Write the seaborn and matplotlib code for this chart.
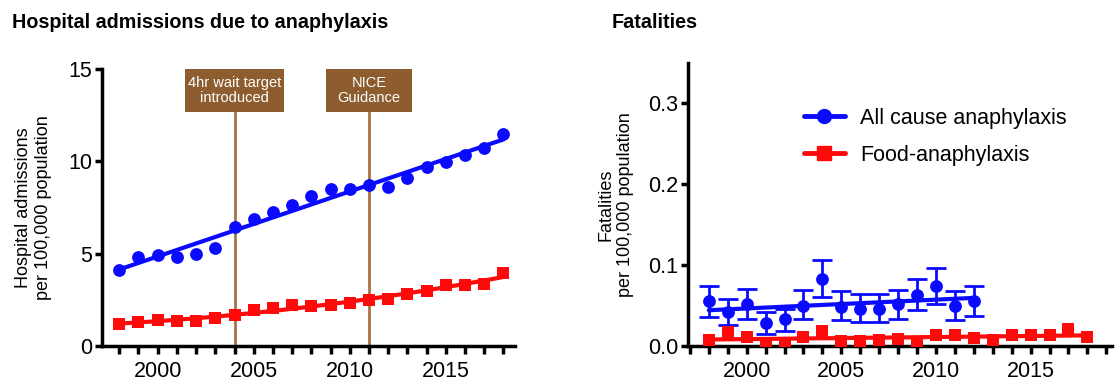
import numpy as np
import pandas as pd
import matplotlib
matplotlib.use("Agg")
import matplotlib.pyplot as plt
import seaborn as sns
from matplotlib.lines import Line2D
from matplotlib.patches import Rectangle
from matplotlib.ticker import MultipleLocator, FixedLocator

sns.set_style("ticks")
plt.rcParams['font.family'] = ['Liberation Sans', 'DejaVu Sans']
plt.rcParams['text.color'] = 'black'
plt.rcParams['axes.labelcolor'] = 'black'
plt.rcParams['xtick.color'] = 'black'
plt.rcParams['ytick.color'] = 'black'

years = list(range(1998, 2019))
adm_all = [4.1, 4.83, 4.92, 4.83, 4.97, 5.33, 6.45, 6.9, 7.27, 7.63, 8.11,
           8.48, 8.48, 8.71, 8.62, 9.11, 9.7, 9.98, 10.34, 10.74, 11.48]
adm_food = [1.17, 1.30, 1.43, 1.36, 1.36, 1.54, 1.66, 1.93, 2.08, 2.2, 2.15,
            2.2, 2.35, 2.48, 2.57, 2.8, 2.98, 3.33, 3.29, 3.38, 3.96]

fat_years_all = list(range(1998, 2013))
fat_all = [0.0557, 0.042, 0.0516, 0.0285, 0.0338, 0.050, 0.0825, 0.048,
           0.046, 0.046, 0.0516, 0.0636, 0.0743, 0.049, 0.0557]
fat_all_hi = [0.0743, 0.0586, 0.071, 0.042, 0.046, 0.069, 0.106, 0.068,
              0.064, 0.064, 0.069, 0.083, 0.096, 0.068, 0.074]
fat_all_lo = [0.036, 0.0256, 0.0334, 0.0144, 0.018, 0.033, 0.060, 0.032,
              0.030, 0.030, 0.033, 0.045, 0.0516, 0.0326, 0.037]
fat_food = [0.0078, 0.0173, 0.011, 0.0037, 0.0037, 0.011, 0.0186, 0.0058,
            0.0058, 0.007, 0.009, 0.005, 0.0132, 0.0132, 0.0103, 0.007,
            0.0132, 0.014, 0.0132, 0.0215, 0.011]

events = [2004, 2011]
event_labels = ["4hr wait target\nintroduced", "NICE\nGuidance"]
event_widths = [5.2, 4.45]

BLUE = "#0a0aff"
RED = "#ff0a0a"
BROWN_LINE = "#a47446"
BROWN_BOX = "#8e5d2f"

fig = plt.figure(figsize=(11.18, 3.83), dpi=100)
ax1 = fig.add_axes([102/1118, 37/383, 413/1118, 277/383])
ax2 = fig.add_axes([688/1118, 37/383, 424/1118, 283/383])

sc_kw = dict(s=85, linewidths=0, zorder=4, alpha=1)
df_adm = pd.DataFrame({"year": years, "all": adm_all, "food": adm_food})
sns.regplot(data=df_adm, x="year", y="all", ax=ax1, ci=None, color=BLUE,
            marker="o", scatter_kws=sc_kw, line_kws=dict(lw=3, zorder=3))
sns.regplot(data=df_adm, x="year", y="food", ax=ax1, ci=None, color=RED, order=2,
            marker="s", scatter_kws=sc_kw, line_kws=dict(lw=3, zorder=3))

ax1.set_xlim(1997.1, 2018.6)
ax1.set_ylim(0, 15)
box_bottom = 12.67
for ev, lab, w in zip(events, event_labels, event_widths):
    ax1.plot([ev, ev], [0, box_bottom], color=BROWN_LINE, lw=2, zorder=2)
    ax1.add_patch(Rectangle((ev - w/2, box_bottom), w, 15 - box_bottom,
                            facecolor=BROWN_BOX, edgecolor="none", zorder=5,
                            clip_on=False))
    ax1.text(ev, (box_bottom + 15)/2, lab, color="white", ha="center",
             va="center", fontsize=10.5, zorder=6, linespacing=1.1)

ax1.set_yticks([0, 5, 10, 15])
ax1.set_ylabel("Hospital admissions\nper 100,000 population", fontsize=13,
               labelpad=12)
ax1.set_xlabel("")

df_fall = pd.DataFrame({"year": fat_years_all, "v": fat_all})
df_ffood = pd.DataFrame({"year": years, "v": fat_food})
yerr = [np.array(fat_all) - np.array(fat_all_lo), np.array(fat_all_hi) - np.array(fat_all)]
ax2.errorbar(fat_years_all, fat_all, yerr=yerr, fmt="none", ecolor=BLUE,
             elinewidth=2, capsize=7, capthick=2, zorder=3)
sns.regplot(data=df_fall, x="year", y="v", ax=ax2, ci=None, color=BLUE,
            marker="o", scatter_kws=sc_kw, line_kws=dict(lw=3, zorder=3))
sns.regplot(data=df_ffood, x="year", y="v", ax=ax2, ci=None, color=RED,
            marker="s", scatter_kws=sc_kw, line_kws=dict(lw=3, zorder=3))
ax2.set_xlim(1996.9, 2019.3)
ax2.set_ylim(0, 0.35)
ax2.yaxis.set_major_locator(FixedLocator([0, 0.1, 0.2, 0.3]))
ax2.set_yticklabels(["0.0", "0.1", "0.2", "0.3"])
ax2.set_ylabel("Fatalities\nper 100,000 population", fontsize=13, labelpad=10)
ax2.set_xlabel("")

for ax in (ax1, ax2):
    sns.despine(ax=ax)
    ax.spines["left"].set_linewidth(2.5)
    ax.spines["bottom"].set_linewidth(2.5)
    ax.spines["left"].set_color("black")
    ax.spines["bottom"].set_color("black")
    ax.xaxis.set_major_locator(FixedLocator([2000, 2005, 2010, 2015]))
    ax.xaxis.set_minor_locator(MultipleLocator(1))
    ax.tick_params(axis="x", which="major", labelsize=15.5, width=2.5,
                   length=6, color="black", pad=5)
    ax.tick_params(axis="y", which="major", labelsize=15.5, width=2.5,
                   length=5, color="black", pad=2)
    ax.tick_params(axis="x", which="minor", width=2.5, length=6, color="black")
    ax.tick_params(axis="y", which="minor", length=0)

handles = [Line2D([], [], color=BLUE, lw=3.5, marker="o", markersize=10),
           Line2D([], [], color=RED, lw=3.5, marker="s", markersize=10)]
ax2.legend(handles, ["All cause anaphylaxis", "Food-anaphylaxis"],
           loc="upper left", bbox_to_anchor=(0.228, 0.91), frameon=False,
           fontsize=15.5, handlelength=1.9, labelspacing=0.75, handletextpad=0.7)

fig.text(12/1118, 1 - 22/383, "Hospital admissions due to anaphylaxis",
         fontsize=14.2, fontweight="bold", va="center", ha="left")
fig.text(612/1118, 1 - 22/383, "Fatalities", fontsize=14.2, fontweight="bold",
         va="center", ha="left")

fig.savefig("out.png", dpi=100)
